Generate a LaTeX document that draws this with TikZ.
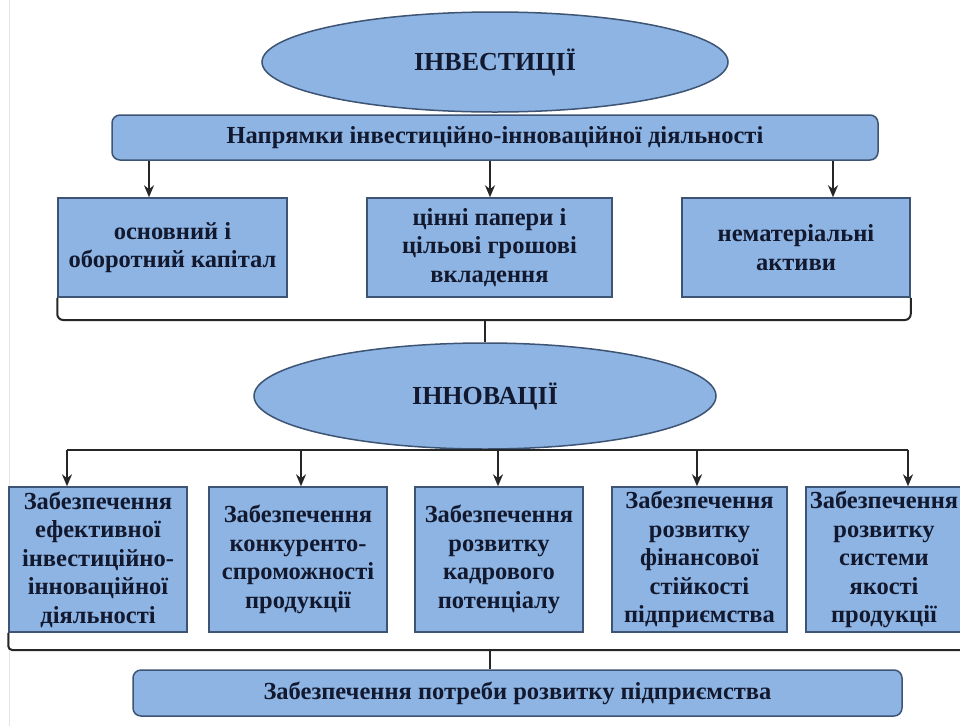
\documentclass[tikz,border=0pt]{standalone}
\usepackage{fontspec}
\setmainfont{Liberation Serif}
\usetikzlibrary{shapes.geometric,arrows.meta}
\definecolor{boxfill}{RGB}{141,180,227}
\definecolor{boxline}{RGB}{62,84,116}
\definecolor{txt}{RGB}{18,24,46}
\begin{document}
\begin{tikzpicture}[x=1pt,y=-1pt,
  basefont/.style={text=txt,font=\bfseries\fontsize{24.5}{28.5}\selectfont,align=center,inner sep=0pt},
  bluebox/.style={basefont,draw=boxline,line width=1.5pt,fill=boxfill,rectangle},
  bar/.style={bluebox,rounded corners=8pt},
  oval/.style={basefont,draw=boxline,line width=1.5pt,fill=boxfill,ellipse,font=\bfseries\fontsize{26}{30}\selectfont},
  conn/.style={draw=black!85,line width=2pt},
  arr/.style={conn,-{Stealth[length=12pt,width=10pt]}}]
\useasboundingbox[fill=white] (0,0) rectangle (960,726);
\draw[gray!22,line width=1pt] (9.5,0) -- (9.5,726);

% top part
\node[oval,minimum width=466pt,minimum height=100pt] (e1) at (495,62) {ІНВЕСТИЦІЇ};
\node[bar,minimum width=766pt,minimum height=45pt] (top) at (495,137.5) {Напрямки інвестиційно-інноваційної діяльності};

\node[bluebox,minimum width=229pt,minimum height=99pt] (r1a) at (172.5,247.5) {основний і\\оборотний капітал};
\node[bluebox,minimum width=245pt,minimum height=99pt] (r1b) at (489.5,247.5) {цінні папери і\\цільові грошові\\вкладення};
\node[bluebox,minimum width=228pt,minimum height=99pt] (r1c) at (796,247.5) {нематеріальні\\активи};

\coordinate (xa) at (149,0);
\coordinate (xb) at (490,0);
\coordinate (xc) at (833,0);
\draw[arr] (top.south -| xa) -- (r1a.north -| xa);
\draw[arr] (top.south -| xb) -- (r1b.north -| xb);
\draw[arr] (top.south -| xc) -- (r1c.north -| xc);

% bracket 1
\node[oval,minimum width=462pt,minimum height=106pt] (e2) at (485,396) {ІННОВАЦІЇ};
\coordinate (br1) at (485,320);
\draw[conn,rounded corners=6pt] (r1a.south west) -- (r1a.south west |- br1) -| (r1c.south east);
\draw[conn] (br1) -- (e2.north);

% row 2
\node[bluebox,minimum width=178pt,minimum height=145pt] (b1) at (98,559.5) {Забезпечення\\ефективної\\інвестиційно-\\інноваційної\\діяльності};
\node[bluebox,minimum width=178pt,minimum height=145pt] (b2) at (298,559.5) {Забезпечення\\конкуренто-\\спроможності\\продукції};
\node[bluebox,minimum width=168pt,minimum height=145pt] (b3) at (499,559.5) {Забезпечення\\розвитку\\кадрового\\потенціалу};
\node[bluebox,minimum width=175pt,minimum height=145pt] (b4) at (699.5,559.5) {Забезпечення\\розвитку\\фінансової\\стійкості\\підприємства};
\node[bluebox,minimum width=156pt,minimum height=145pt] (b5) at (884,559.5) {Забезпечення\\розвитку\\системи\\якості\\продукції};

\coordinate (h2) at (485,450);
\coordinate (x1) at (67,0);
\coordinate (x2) at (301,0);
\coordinate (x3) at (498,0);
\coordinate (x4) at (697,0);
\coordinate (x5) at (908,0);
\draw[conn] (e2.south) -- (h2);
\draw[conn] (x1 |- h2) -- (x5 |- h2);
\draw[arr] (x1 |- h2) -- (b1.north -| x1);
\draw[arr] (x2 |- h2) -- (b2.north -| x2);
\draw[arr] (x3 |- h2) -- (b3.north -| x3);
\draw[arr] (x4 |- h2) -- (b4.north -| x4);
\draw[arr] (x5 |- h2) -- (b5.north -| x5);

% bottom
\node[bar,minimum width=769pt,minimum height=46pt] (bot) at (517.5,693) {Забезпечення потреби розвитку підприємства};
\coordinate (h3) at (490,650);
\coordinate (rend) at (962,650);
\draw[conn,rounded corners=4pt] (b1.south west) -- (b1.south west |- h3) -- (rend);
\draw[conn] (h3) -- (h3 |- bot.north);
\end{tikzpicture}
\end{document}
